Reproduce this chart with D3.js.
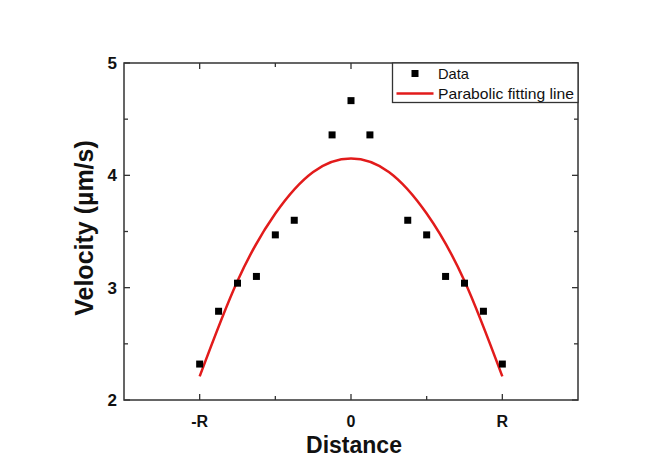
<!DOCTYPE html>
<html>
<head>
<meta charset="utf-8">
<script src="https://cdn.jsdelivr.net/npm/d3@7"></script>
<style>
  body { margin: 0; background: #fff; }
  svg { display: block; }
  text { font-family: "Liberation Sans", Arial, sans-serif; fill: #111; }
</style>
</head>
<body>
<div class="canvas"></div>
<script>
// measured points (distance in units of R, velocity in µm/s)
const dataX = [-1, -0.875, -0.75, -0.625, -0.5, -0.375, -0.125, 0, 0.125, 0.375, 0.5, 0.625, 0.75, 0.875, 1];
const dataV = [2.32, 2.79, 3.04, 3.10, 3.47, 3.60, 4.36, 4.665, 4.36, 3.60, 3.47, 3.10, 3.04, 2.79, 2.32];

// parabolic fit line
const fitX = [-1, -0.75, -0.5, -0.25, 0, 0.25, 0.5, 0.75, 1];
const fitV = [2.21, 3.06, 3.66, 4.03, 4.15, 4.03, 3.66, 3.06, 2.21];

const xTicks = [-1, 0, 1];
const xTickLabels = ["-R", "0", "R"];
const xMinorTicks = [-0.5, 0.5];
const yTicks = [2, 3, 4, 5];
const yMinorTicks = [2.5, 3.5, 4.5];

(function () {
    const width = 662, height = 472;
    const LEFT = 124, RIGHT = 578, TOP = 63, BOTTOM = 400;
    const RED = "#e21b1b";
    const AXIS = "#333";

    const svg = d3.select(".canvas").append("svg")
        .attr("width", width)
        .attr("height", height);

    const x = d3.scaleLinear().domain([-1.5, 1.5]).range([LEFT, RIGHT]);
    const y = d3.scaleLinear().domain([2, 5]).range([BOTTOM, TOP]);

    // frame
    svg.append("rect")
        .attr("x", LEFT).attr("y", TOP)
        .attr("width", RIGHT - LEFT).attr("height", BOTTOM - TOP)
        .attr("fill", "none").attr("stroke", AXIS).attr("stroke-width", 1.5);

    // ticks, pointing inward, on all four sides
    const g = svg.append("g").attr("stroke", AXIS).attr("stroke-width", 1.3);
    function vTicks(vals, len) {
        vals.forEach(v => {
            g.append("line").attr("x1", x(v)).attr("x2", x(v)).attr("y1", BOTTOM).attr("y2", BOTTOM - len);
            g.append("line").attr("x1", x(v)).attr("x2", x(v)).attr("y1", TOP).attr("y2", TOP + len);
        });
    }
    function hTicks(vals, len) {
        vals.forEach(v => {
            g.append("line").attr("y1", y(v)).attr("y2", y(v)).attr("x1", LEFT).attr("x2", LEFT + len);
            g.append("line").attr("y1", y(v)).attr("y2", y(v)).attr("x1", RIGHT).attr("x2", RIGHT - len);
        });
    }
    vTicks(xTicks, 6);
    vTicks(xMinorTicks, 4);
    hTicks(yTicks, 6);
    hTicks(yMinorTicks, 4);

    // tick labels
    svg.append("g").selectAll("text").data(xTicks).join("text")
        .attr("x", d => x(d)).attr("y", 427)
        .attr("text-anchor", "middle")
        .attr("font-size", 16).attr("font-weight", "bold")
        .text((d, i) => xTickLabels[i]);

    svg.append("g").selectAll("text").data(yTicks).join("text")
        .attr("x", 117).attr("y", d => y(d) + 6)
        .attr("text-anchor", "end")
        .attr("font-size", 17).attr("font-weight", "bold")
        .text(d => d);

    // axis titles
    svg.append("text")
        .attr("x", 354).attr("y", 453)
        .attr("text-anchor", "middle")
        .attr("font-size", 23).attr("font-weight", "bold")
        .text("Distance");

    svg.append("text")
        .attr("transform", "translate(93,228) rotate(-90)")
        .attr("text-anchor", "middle")
        .attr("font-size", 25).attr("font-weight", "bold")
        .text("Velocity (µm/s)");

    // fit line
    const line = d3.line()
        .x(d => x(d[0]))
        .y(d => y(d[1]))
        .curve(d3.curveNatural);
    svg.append("path")
        .datum(d3.zip(fitX, fitV))
        .attr("d", line)
        .attr("fill", "none")
        .attr("stroke", RED)
        .attr("stroke-width", 2.5);

    // data squares
    const S = 7;
    svg.append("g").selectAll("rect").data(d3.zip(dataX, dataV)).join("rect")
        .attr("x", d => x(d[0]) - S / 2)
        .attr("y", d => y(d[1]) - S / 2)
        .attr("width", S).attr("height", S)
        .attr("fill", "#000");

    // legend
    const lg = svg.append("g");
    lg.append("rect")
        .attr("x", 392.5).attr("y", TOP)
        .attr("width", RIGHT - 392.5).attr("height", 39.5)
        .attr("fill", "#fff").attr("stroke", AXIS).attr("stroke-width", 1.3);
    lg.append("rect")
        .attr("x", 415 - 3.5).attr("y", 73.5 - 3.5)
        .attr("width", S).attr("height", S).attr("fill", "#000");
    lg.append("line")
        .attr("x1", 396.5).attr("x2", 433.5).attr("y1", 93.5).attr("y2", 93.5)
        .attr("stroke", RED).attr("stroke-width", 2.5);
    lg.append("text").attr("x", 438).attr("y", 79)
        .attr("font-size", 14.5)
        .attr("textLength", 31).attr("lengthAdjust", "spacingAndGlyphs")
        .text("Data");
    lg.append("text").attr("x", 438).attr("y", 99)
        .attr("font-size", 14.5)
        .attr("textLength", 136).attr("lengthAdjust", "spacingAndGlyphs")
        .text("Parabolic fitting line");
})();
</script>
</body>
</html>
